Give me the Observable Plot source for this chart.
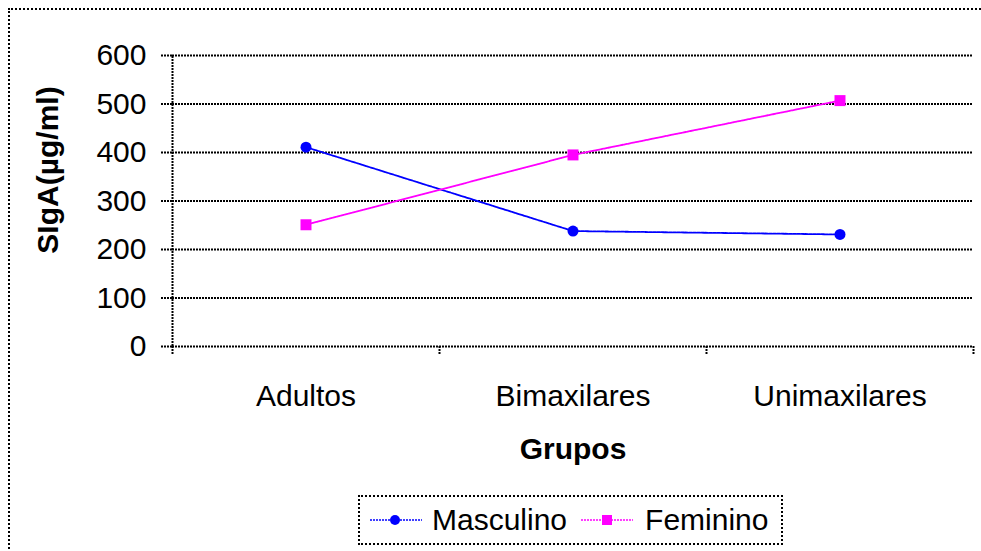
<!DOCTYPE html>
<html>
<head>
<meta charset="utf-8">
<script src="https://cdn.jsdelivr.net/npm/d3@7"></script>
<script src="https://cdn.jsdelivr.net/npm/@observablehq/plot@0.6"></script>
<style>
  html, body { margin: 0; padding: 0; background: #fff; overflow: hidden; width: 981px; height: 551px; }
  #wrap { position: relative; width: 981px; height: 551px; font-family: "Liberation Sans", Arial, sans-serif; }
  #frame { position: absolute; left: 8px; top: 8px; width: 1100px; height: 700px; border-left: 2px dotted #000; border-top: 2px dotted #000; box-sizing: border-box; }
  #chart { position: absolute; left: 0; top: 0; }
  #legend { position: absolute; left: 358px; top: 495px; width: 425px; height: 50px; border: 2px dotted #000; box-sizing: border-box; background: #fff;
    display: flex; align-items: center; font-size: 30px; color: #000; }
  .item { display: flex; align-items: center; }
  .item svg { display: block; }
</style>
</head>
<body>
<div id="wrap">
  <div id="frame"></div>
  <div id="chart"></div>
  <div id="legend"></div>
</div>
<script>
const groups = ["Adultos", "Bimaxilares", "Unimaxilares"];
const masculino = [411, 238, 231];
const feminino = [251, 395, 507];
const yTicks = [0, 100, 200, 300, 400, 500, 600];
const seriesNames = ["Masculino", "Feminino"];
const seriesColors = ["#0000ff", "#ff00ff"];
const yLabel = "SIgA(µg/ml)";
const xLabel = "Grupos";

const rows = [];
groups.forEach((g, i) => {
  rows.push({ i, grupo: g, serie: seriesNames[0], v: masculino[i] });
  rows.push({ i, grupo: g, serie: seriesNames[1], v: feminino[i] });
});
const bounds = d3.range(groups.length + 1).map(k => k - 0.5);
const font = "Liberation Sans, Arial, sans-serif";
const gridStyle = { stroke: "#000", strokeWidth: 2, strokeDasharray: "2,1", strokeOpacity: 1 };

const chart = Plot.plot({
  width: 981,
  height: 480,
  marginLeft: 172,
  marginRight: 8,
  marginTop: 55,
  marginBottom: 134,
  style: { fontFamily: font, background: "transparent", overflow: "visible" },
  x: { type: "linear", domain: [-0.5, groups.length - 0.5] },
  y: { domain: [0, 600] },
  color: { domain: seriesNames, range: seriesColors },
  marks: [
    Plot.ruleY(yTicks, gridStyle),
    Plot.ruleX([-0.5], { y1: 0, y2: 600, ...gridStyle }),
    Plot.axisY({ ticks: yTicks, tickSize: 11, tickPadding: 15, fontSize: 30, label: null, ...gridStyle, fill: "#000" }),
    Plot.axisX({ ticks: bounds, tickSize: 8, tickFormat: () => "", label: null, ...gridStyle }),
    Plot.axisX({ ticks: d3.range(groups.length), tickSize: 0, tickPadding: 38, fontSize: 30, label: null,
      tickFormat: i => groups[i], fill: "#000" }),
    Plot.line(rows, { x: "i", y: "v", z: "serie", stroke: "serie", strokeWidth: 1.8, strokeDasharray: "3,1" }),
    Plot.dot(rows.filter(d => d.serie === seriesNames[0]), { x: "i", y: "v", r: 5.5, fill: "serie", stroke: "none", symbol: "circle" }),
    Plot.dot(rows.filter(d => d.serie === seriesNames[1]), { x: "i", y: "v", r: 6.2, fill: "serie", stroke: "none", symbol: "square" }),
    Plot.text([yLabel], { frameAnchor: "left", text: d => d, rotate: -90, dx: -124, dy: -31, fontSize: 30, fontWeight: "bold", fill: "#000", textAnchor: "middle" }),
    Plot.text([xLabel], { frameAnchor: "bottom", text: d => d, dy: 112, fontSize: 30, fontWeight: "bold", fill: "#000", textAnchor: "middle" })
  ]
});
document.getElementById("chart").appendChild(chart);

// Legend
const legend = document.getElementById("legend");
const legendPos = [{ pad: 10, gap: 10 }, { pad: 14, gap: 12 }];
seriesNames.forEach((name, k) => {
  const item = document.createElement("div");
  item.className = "item";
  item.style.marginLeft = legendPos[k].pad + "px";
  const sw = d3.create("svg").attr("width", 52).attr("height", 20);
  sw.append("line").attr("x1", 0).attr("x2", 52).attr("y1", 10).attr("y2", 10)
    .attr("stroke", seriesColors[k]).attr("stroke-width", 1.5).attr("stroke-dasharray", "2,1");
  if (k === 0) sw.append("circle").attr("cx", 25).attr("cy", 10).attr("r", 5).attr("fill", seriesColors[k]);
  else sw.append("rect").attr("x", 21).attr("y", 5).attr("width", 10).attr("height", 10).attr("fill", seriesColors[k]);
  item.appendChild(sw.node());
  const t = document.createElement("span");
  t.textContent = name;
  t.style.marginLeft = legendPos[k].gap + "px";
  item.appendChild(t);
  legend.appendChild(item);
});
</script>
</body>
</html>
